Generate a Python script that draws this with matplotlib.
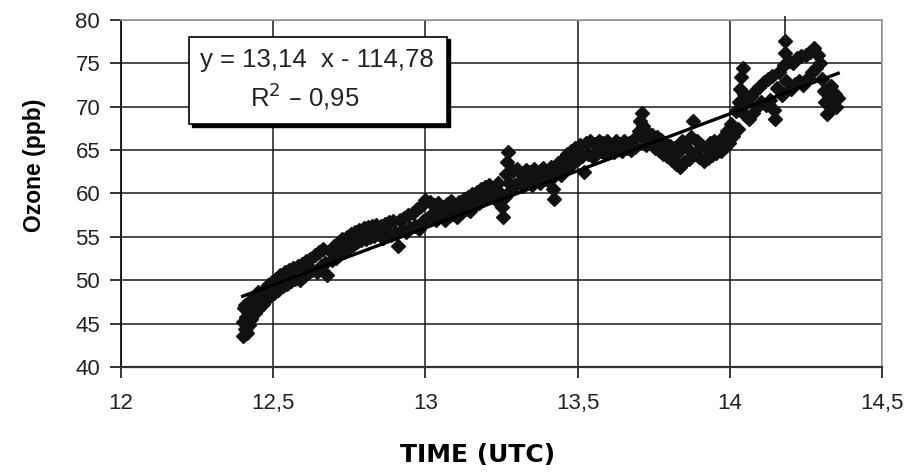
import matplotlib
matplotlib.use("Agg")
from matplotlib import pyplot as plt
from matplotlib.patches import Rectangle
from matplotlib.ticker import FuncFormatter
import numpy as np

# Hora (UTC) e ozônio medido (ppb)
tempo = [
    12.400, 12.402, 12.404, 12.406, 12.408, 12.410, 12.413, 12.416, 12.420, 12.424,
    12.428, 12.432, 12.436, 12.440, 12.445, 12.450, 12.455, 12.460, 12.466, 12.472,
    12.478, 12.484, 12.490, 12.496,
    12.503, 12.510, 12.517, 12.524, 12.531, 12.538, 12.545, 12.552, 12.559, 12.566,
    12.573, 12.580, 12.587, 12.594, 12.601, 12.608, 12.615, 12.622, 12.629, 12.636,
    12.643, 12.650, 12.657, 12.664, 12.671, 12.678, 12.685, 12.692,
    12.699, 12.706, 12.713, 12.720, 12.727, 12.734, 12.741, 12.748, 12.755, 12.762,
    12.769, 12.776, 12.783, 12.790, 12.797, 12.804, 12.811, 12.818, 12.825, 12.832,
    12.839, 12.846, 12.853, 12.860, 12.867, 12.874, 12.881, 12.888, 12.895, 12.902,
    12.909, 12.916, 12.923, 12.930, 12.937, 12.944,
    12.951, 12.958, 12.965, 12.972, 12.979, 12.986, 12.993, 13.000, 13.007, 13.014,
    13.021, 13.028, 13.035, 13.042, 13.049, 13.056, 13.063, 13.070, 13.077, 13.084,
    13.091, 13.098, 13.105, 13.112, 13.119, 13.126, 13.133, 13.140, 13.147, 13.154,
    13.161, 13.168, 13.175, 13.182, 13.189, 13.196, 13.203, 13.210, 13.217, 13.224,
    13.231, 13.238, 13.245,
    13.252, 13.256, 13.260, 13.264, 13.268, 13.272, 13.276, 13.280, 13.287, 13.294,
    13.301, 13.308, 13.315, 13.322, 13.329, 13.336, 13.343, 13.350, 13.357, 13.364,
    13.371, 13.378, 13.385, 13.392, 13.399, 13.406, 13.413, 13.420, 13.424, 13.430,
    13.437, 13.444, 13.451, 13.458, 13.465, 13.472, 13.479, 13.486, 13.493, 13.500,
    13.507, 13.514, 13.521, 13.528, 13.535, 13.542, 13.549, 13.556, 13.563, 13.570,
    13.577, 13.584, 13.591, 13.598, 13.605, 13.612, 13.619, 13.626, 13.633, 13.640,
    13.647, 13.654, 13.661, 13.668, 13.675, 13.682, 13.689, 13.696, 13.702, 13.706,
    13.710, 13.714, 13.718, 13.725, 13.732, 13.739, 13.746, 13.753, 13.760, 13.767,
    13.774, 13.781, 13.788, 13.795, 13.802, 13.809, 13.816, 13.823, 13.830, 13.837,
    13.844, 13.851, 13.858, 13.865, 13.872, 13.879, 13.886, 13.893, 13.900, 13.907,
    13.914, 13.921, 13.928, 13.935, 13.942, 13.949, 13.956, 13.963, 13.970, 13.977,
    13.984, 13.991, 13.998, 14.005, 14.012, 14.019, 14.026, 14.030, 14.034, 14.038,
    14.042, 14.046, 14.050, 14.055, 14.062, 14.069, 14.076, 14.083, 14.090, 14.097,
    14.104, 14.111, 14.118, 14.125, 14.132, 14.139, 14.146, 14.150, 14.156, 14.163,
    14.170, 14.177, 14.180, 14.182, 14.186, 14.193, 14.200, 14.207, 14.214, 14.221,
    14.228, 14.235, 14.242, 14.249, 14.256, 14.263, 14.270, 14.277, 14.284, 14.290,
    14.296, 14.302, 14.308, 14.314, 14.320, 14.326, 14.332, 14.338, 14.344, 14.350,
    14.356,
]
ozonio = [
    43.6, 45.2, 46.8, 44.4, 47.2, 45.8, 43.9, 46.3, 44.8, 47.6,
    45.5, 46.9, 48.1, 46.2, 47.4, 48.6, 46.8, 48.0, 47.3, 49.0,
    47.9, 49.4, 48.2, 49.8,
    48.5, 50.2, 48.9, 50.6, 49.3, 50.9, 49.6, 51.2, 49.9, 51.4,
    50.2, 51.6, 50.0, 51.9, 50.5, 52.2, 50.8, 52.5, 51.2, 52.9,
    51.0, 53.2, 51.6, 53.6, 52.0, 50.6, 53.4, 52.3,
    54.0, 52.6, 54.3, 53.0, 54.7, 53.3, 55.0, 53.7, 55.3, 54.1,
    55.6, 54.4, 55.8, 54.6, 56.0, 54.8, 56.1, 55.0, 56.2, 55.1,
    56.4, 55.3, 56.3, 54.9, 56.5, 55.4, 56.7, 55.2, 56.8, 55.5,
    54.0, 56.9, 55.8, 57.2, 55.6, 57.5,
    56.0, 57.8, 56.3, 58.2, 55.9, 58.6, 56.8, 59.3, 57.2, 59.0,
    57.6, 58.7, 57.0, 58.9, 57.8, 58.4, 56.9, 58.8, 57.4, 59.1,
    57.6, 58.6, 57.3, 59.0, 57.9, 59.4, 58.2, 59.6, 58.0, 59.9,
    58.6, 60.2, 58.9, 60.5, 59.2, 60.8, 59.5, 61.0, 59.8, 60.6,
    59.3, 61.2, 60.0,
    58.4, 57.3, 59.6, 62.3, 63.6, 64.8, 61.2, 60.4, 62.6, 61.0,
    62.8, 61.3, 62.4, 60.9, 62.7, 61.5, 62.5, 61.0, 62.8, 61.6,
    62.4, 61.2, 62.9, 61.7, 62.6, 61.4, 63.0, 60.5, 59.4, 62.2,
    63.5, 62.1, 64.0, 62.8, 64.5, 63.1, 64.9, 63.6, 65.3, 64.0,
    65.6, 64.3, 62.5, 65.8, 64.5, 66.0, 64.2, 65.7, 64.7, 66.0,
    64.9, 65.8, 64.6, 66.1, 65.0, 65.6, 64.8, 66.0, 65.1, 65.7,
    64.9, 66.1, 65.3, 65.8, 65.0, 66.2, 65.4, 66.5, 67.2, 68.4,
    69.3, 67.8, 66.3, 65.6, 67.0, 65.8, 66.7, 65.3, 66.5, 65.0,
    66.2, 64.6, 65.8, 64.3, 65.5, 63.9, 65.2, 63.4, 64.8, 63.1,
    66.0, 63.6, 65.2, 64.0, 66.5, 68.3, 64.5, 66.0, 64.2, 65.6,
    63.8, 65.2, 64.1, 65.8, 64.4, 66.1, 64.7, 65.9, 64.9, 66.5,
    65.4, 67.2, 65.8, 68.0, 66.6, 69.5, 67.4, 70.6, 72.0, 73.4,
    74.5, 71.5, 69.0, 70.5, 68.6, 71.2, 69.3, 71.8, 70.0, 72.3,
    70.5, 72.8, 70.2, 73.2, 70.8, 73.6, 69.6, 68.6, 72.2, 74.0,
    71.3, 74.8, 76.2, 77.6, 73.0, 75.3, 72.0, 75.0, 72.6, 75.6,
    73.0, 75.8, 72.5, 76.0, 73.3, 76.3, 74.0, 76.8, 74.5, 76.0,
    75.0, 73.2, 71.8, 70.6, 69.2, 71.0, 72.4, 70.2, 71.5, 70.0,
    71.0,
]

# Pico isolado que sai pelo topo do gráfico
pico_tempo = 14.182
pico_faixa = [77.6, 80.5]

# Coeficientes da reta de tendência
inclinacao = 13.14
intercepto = -114.78
r2 = 0.95

tempo = np.array(tempo)
ozonio = np.array(ozonio)

fig = plt.figure(figsize=(9.2, 4.75), dpi=100)
ax = fig.add_axes([0.1315, 0.2274, 0.8272, 0.7305])

ax.plot(tempo, ozonio, linestyle='none', marker='D', markersize=7.4,
        color='#111111', zorder=3)
ax.vlines(pico_tempo, pico_faixa[0], pico_faixa[1], color='#222222',
          linewidth=1.2, clip_on=False, zorder=3)

# Reta de tendência
xr = np.array([tempo.min(), tempo.max()])
ax.plot(xr, inclinacao * xr + intercepto, color='black', linewidth=2.4, zorder=4)

ax.set_xlim(12, 14.5)
ax.set_ylim(40, 80)
ax.set_xticks([12, 12.5, 13, 13.5, 14, 14.5])
ax.set_yticks(range(40, 81, 5))
virgula = FuncFormatter(lambda v, p: ('%g' % v).replace('.', ','))
ax.xaxis.set_major_formatter(virgula)
ax.yaxis.set_major_formatter(virgula)
ax.grid(True, color='#1a1a1a', linewidth=1.1)
ax.set_axisbelow(True)

for lado in ['top', 'right']:
    ax.spines[lado].set_color('#9a9a9a')
    ax.spines[lado].set_linewidth(1.2)
ax.spines['left'].set_linewidth(1.2)
ax.spines['bottom'].set_linewidth(1.6)
ax.spines['bottom'].set_color('#333333')

ax.tick_params(axis='both', direction='out', length=8, width=1.1,
               labelsize=16, labelcolor='#222222')
ax.tick_params(axis='x', pad=11)
ax.tick_params(axis='y', pad=7)
for lbl in ax.get_xticklabels() + ax.get_yticklabels():
    lbl.set_family('Liberation Sans')

ax.set_ylabel('Ozone (ppb)', fontsize=16.5, fontweight='bold',
              family='Liberation Sans')
ax.yaxis.set_label_coords(-0.114, 0.58)
ax.set_xlabel('TIME (UTC)', fontsize=18, fontweight='bold',
              family='DejaVu Sans')
ax.xaxis.set_label_coords(0.469, -0.254)
ax.xaxis.label.set_va('center')
ax.yaxis.label.set_va('center')

# Caixa com a equação da reta (com sombra)
sombra = Rectangle((0.093, 0.692), 0.339, 0.252, transform=ax.transAxes,
                   facecolor='black', edgecolor='black', zorder=5)
caixa = Rectangle((0.089, 0.700), 0.339, 0.252, transform=ax.transAxes,
                  facecolor='white', edgecolor='black', linewidth=1.2, zorder=6)
ax.add_patch(sombra)
ax.add_patch(caixa)
eq1 = 'y = %s  x - %s' % (('%.2f' % inclinacao).replace('.', ','),
                          ('%.2f' % -intercepto).replace('.', ','))
eq2 = 'R$^2$ – %s' % ('%.2f' % r2).replace('.', ',')
ax.text(0.258, 0.885, eq1, transform=ax.transAxes, ha='center', va='center',
        fontsize=18.5, family='Liberation Sans', color='#222222', zorder=7)
ax.text(0.242, 0.78, eq2, transform=ax.transAxes, ha='center', va='center',
        fontsize=18.5, family='Liberation Sans', color='#222222', zorder=7)

plt.savefig('out.png', dpi=100)
